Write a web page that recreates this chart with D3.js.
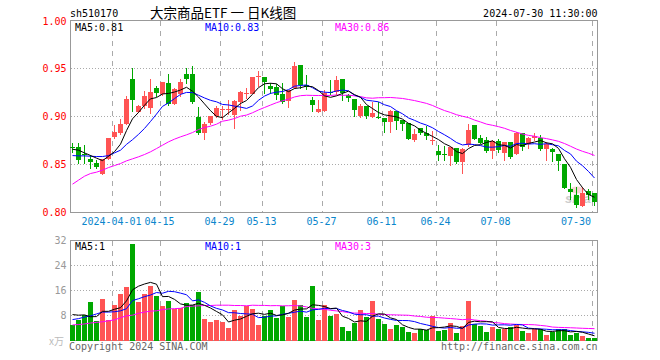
<!DOCTYPE html>
<html><head><meta charset="utf-8">
<script src="https://cdn.jsdelivr.net/npm/d3@7"></script>
<style>
body{margin:0;background:#fff;}
svg{display:block;}
text{font-family:"DejaVu Sans Mono",monospace;font-size:10px;}
</style>
</head><body>
<svg id="c" width="660" height="360"></svg>
<script>
const dates = ["2024-03-21","2024-03-22","2024-03-25","2024-03-26","2024-03-27","2024-03-28","2024-03-29",
"2024-04-01","2024-04-02","2024-04-03","2024-04-08","2024-04-09","2024-04-10","2024-04-11","2024-04-12","2024-04-15","2024-04-16","2024-04-17","2024-04-18","2024-04-19","2024-04-22","2024-04-23","2024-04-24","2024-04-25","2024-04-26","2024-04-29","2024-04-30",
"2024-05-06","2024-05-07","2024-05-08","2024-05-09","2024-05-10","2024-05-13","2024-05-14","2024-05-15","2024-05-16","2024-05-17","2024-05-20","2024-05-21","2024-05-22","2024-05-23","2024-05-24","2024-05-27","2024-05-28","2024-05-29","2024-05-30","2024-05-31",
"2024-06-03","2024-06-04","2024-06-05","2024-06-06","2024-06-07","2024-06-11","2024-06-12","2024-06-13","2024-06-14","2024-06-17","2024-06-18","2024-06-19","2024-06-20","2024-06-21","2024-06-24","2024-06-25","2024-06-26","2024-06-27","2024-06-28",
"2024-07-01","2024-07-02","2024-07-03","2024-07-04","2024-07-05","2024-07-08","2024-07-09","2024-07-10","2024-07-11","2024-07-12","2024-07-15","2024-07-16","2024-07-17","2024-07-18","2024-07-19","2024-07-22","2024-07-23","2024-07-24","2024-07-25","2024-07-26","2024-07-29","2024-07-30"];

const open = [0.8686,0.8680,0.8614,0.8559,0.8514,0.8399,0.8562,0.8785,0.8826,0.8920,0.9389,0.9048,0.9111,0.9090,0.9295,0.9239,0.9347,0.9135,0.9239,0.9441,0.9441,0.9000,0.8823,0.8934,0.9003,0.9066,0.9066,0.9014,0.9152,0.9239,0.9239,0.9416,0.9409,0.9316,0.9309,0.9239,0.9159,0.9298,0.9534,0.9326,0.9170,0.9048,0.9055,0.9260,0.9257,0.9388,0.9222,0.9180,0.9003,0.9107,0.8996,0.8996,0.8986,0.8944,0.9055,0.8962,0.8930,0.8753,0.8882,0.8829,0.8743,0.8638,0.8607,0.8590,0.8677,0.8527,0.8708,0.8909,0.8777,0.8753,0.8642,0.8746,0.8621,0.8732,0.8607,0.8823,0.8718,0.8781,0.8781,0.8660,0.8660,0.8614,0.8503,0.8243,0.8180,0.8069,0.8222,0.8198];
const high = [0.8729,0.8729,0.8708,0.8597,0.8545,0.8562,0.8774,0.8909,0.8972,0.9211,0.9503,0.9118,0.9267,0.9395,0.9316,0.9364,0.9441,0.9295,0.9389,0.9503,0.9524,0.9104,0.8944,0.9010,0.9114,0.9107,0.9170,0.9170,0.9267,0.9302,0.9409,0.9472,0.9409,0.9350,0.9343,0.9350,0.9281,0.9566,0.9534,0.9430,0.9205,0.9170,0.9281,0.9385,0.9420,0.9388,0.9239,0.9180,0.9128,0.9107,0.9152,0.9152,0.8986,0.9066,0.9055,0.8962,0.8930,0.8868,0.8885,0.8899,0.8850,0.8701,0.8691,0.8684,0.8677,0.8677,0.8927,0.8909,0.8805,0.8788,0.8760,0.8764,0.8732,0.8732,0.8840,0.8823,0.8788,0.8823,0.8805,0.8736,0.8677,0.8614,0.8503,0.8309,0.8267,0.8267,0.8243,0.8198];
const low = [0.8625,0.8503,0.8510,0.8455,0.8455,0.8392,0.8545,0.8764,0.8809,0.8909,0.9048,0.9038,0.9083,0.9024,0.9198,0.9218,0.9111,0.9121,0.9205,0.9340,0.9135,0.8809,0.8760,0.8909,0.8989,0.8962,0.9014,0.8868,0.9059,0.9187,0.9232,0.9309,0.9239,0.9232,0.9177,0.9135,0.9090,0.9291,0.9291,0.9274,0.9048,0.9038,0.9048,0.9222,0.9229,0.9159,0.9152,0.8996,0.8986,0.8975,0.8989,0.8979,0.8829,0.8829,0.8857,0.8854,0.8753,0.8736,0.8805,0.8753,0.8701,0.8538,0.8538,0.8482,0.8503,0.8399,0.8684,0.8753,0.8711,0.8621,0.8555,0.8621,0.8538,0.8562,0.8597,0.8642,0.8660,0.8746,0.8642,0.8538,0.8527,0.8434,0.8246,0.8135,0.8052,0.8059,0.8128,0.8069];
const close = [0.8682,0.8552,0.8594,0.8528,0.8475,0.8555,0.8774,0.8836,0.8920,0.9180,0.9170,0.9107,0.9211,0.9253,0.9246,0.9357,0.9135,0.9284,0.9357,0.9389,0.9152,0.8833,0.8927,0.9003,0.9093,0.9083,0.9083,0.9159,0.9257,0.9250,0.9409,0.9427,0.9361,0.9284,0.9222,0.9152,0.9274,0.9524,0.9326,0.9309,0.9118,0.9076,0.9246,0.9250,0.9385,0.9246,0.9194,0.9066,0.9111,0.9007,0.9038,0.8986,0.8944,0.9059,0.8955,0.8920,0.8764,0.8816,0.8829,0.8795,0.8760,0.8597,0.8602,0.8684,0.8527,0.8660,0.8857,0.8764,0.8725,0.8642,0.8743,0.8656,0.8732,0.8580,0.8829,0.8684,0.8777,0.8798,0.8660,0.8711,0.8632,0.8538,0.8257,0.8215,0.8076,0.8208,0.8180,0.8114];
const volume = [4.9,6.6,8.1,12.4,6.3,13.3,6.6,11.4,14.9,17.2,31.0,12.4,14.9,17.5,14.3,11.1,12.7,10.2,10.3,12.1,11.4,15.6,6.9,6.0,6.6,6.0,4.1,9.8,7.9,10.9,10.1,5.0,7.9,9.8,7.3,10.9,7.6,13.1,11.4,7.6,17.5,6.6,11.3,8.0,8.5,4.4,3.1,5.7,9.8,7.6,12.7,6.9,5.3,3.7,5.0,4.2,2.8,2.5,3.7,3.4,7.9,3.1,3.4,5.7,2.5,4.7,12.7,5.3,4.7,2.8,4.4,3.7,3.7,4.4,5.0,3.1,2.5,3.7,3.7,1.8,2.8,3.7,3.7,1.8,2.5,1.5,0.85,0.85];

// moving-average values before enough visible history exists
const ma5Lead = [0.8659,0.8649,0.8621,0.8594];
const ma10Lead = [0.8593,0.8590,0.8590,0.8586,0.8583,0.8583,0.8593,0.8621,0.8649];
const ma30Lead = [0.8295,0.8337,0.8378,0.8406,0.8420,0.8441,0.8468,0.8489,0.8510,0.8538,0.8559,0.8580,0.8604,0.8632,0.8666,0.8701,0.8736,0.8764,0.8788,0.8809,0.8833,0.8864,0.8885,0.8899,0.8920,0.8951,0.8962,0.8979,0.9003];
const volMa5Lead = [8.3,8.1,8.2,7.6];
const volMa10Lead = [6.7,7.0,7.5,7.9,8.5,9.1,9.1,9.2,9.5];
const volMa30Lead = [5.0,5.1,5.3,5.6,5.8,6.0,6.3,6.6,7.3,7.9,8.1,8.7,9.1,9.4,9.5,9.9,10.1,10.2,10.3,10.9,11.0,11.1,11.2,11.2,11.3,11.3,11.3,11.2,11.2];

const tickDates = ["2024-04-01","2024-04-15","2024-04-29","2024-05-13","2024-05-27","2024-06-11","2024-06-24","2024-07-08","2024-07-30"];
const tickLabels = ["2024-04-01","04-15","04-29","05-13","05-27","06-11","06-24","07-08","07-30"];
const priceTicks = [0.80,0.85,0.90,0.95,1.00];
const priceGrid = [0.85,0.90,0.95];
const volTicks = [8,16,24,32];
const volGrid = [8,16,24];

const code = "sh510170";
const title = "大宗商品ETF 一 日K线图";
const stamp = "2024-07-30 11:30:00";
const priceMaLabels = ["MA5:0.81","MA10:0.83","MA30:0.86"];
const volMaLabels = ["MA5:1","MA10:1","MA30:3"];

const UP = "#ff5454", DOWN = "#00a800";
const MA_COLORS = ["#000000","#0000ff","#ff00ff"];
const GRID = "#aaaaaa", FRAME = "#999999";

const svg = d3.select("#c");
const L = 70.5, R = 597.5;
const x = d3.scalePoint().domain(dates).range([72.5, 594.5]);
const y = d3.scaleLinear().domain([0.8, 1.0]).range([212.5, 20.5]);
const yv = d3.scaleLinear().domain([0, 32]).range([340.5, 240.5]);

function movingAvg(arr, n, lead) {
  return arr.map((_, i) => i >= n - 1 ? d3.mean(arr.slice(i - n + 1, i + 1)) : lead[i]);
}

// header
svg.append("text").attr("x", 70).attr("y", 17).attr("fill", "#000").text(code);
svg.append("text").attr("x", 150).attr("y", 17.7)
  .style("font-family", "'Noto Sans CJK SC', sans-serif").style("font-size", "13.5px")
  .style("white-space", "pre").attr("fill", "#000").text(title);
svg.append("text").attr("x", 597.5).attr("y", 17).attr("text-anchor", "end").attr("fill", "#000").text(stamp);

// watermark
const wm = svg.append("g");
wm.append("ellipse").attr("cx", 577).attr("cy", 190).attr("rx", 7).attr("ry", 3.5).attr("fill", "#f6caca").attr("opacity", 0.8);
wm.append("text").attr("x", 565).attr("y", 203)
  .style("font-family", "'Liberation Sans', sans-serif").style("font-size", "13px")
  .style("font-style", "italic").style("font-weight", "bold").attr("fill", "#cccccc").text("sina");

function panelGrid(top, bottom, hVals, yScale) {
  const g = svg.append("g").attr("shape-rendering", "crispEdges");
  g.selectAll(".h").data(hVals).join("line")
    .attr("x1", L).attr("x2", R).attr("y1", d => yScale(d)).attr("y2", d => yScale(d))
    .attr("stroke", GRID).attr("stroke-dasharray", "1,2");
  g.selectAll(".v").data(tickDates).join("line")
    .attr("x1", d => x(d) - 2).attr("x2", d => x(d) - 2).attr("y1", top).attr("y2", bottom)
    .attr("stroke", GRID).attr("stroke-dasharray", "5,5");
  g.append("rect").attr("x", L).attr("y", top).attr("width", R - L).attr("height", bottom - top)
    .attr("fill", "none").attr("stroke", FRAME);
}
panelGrid(20.5, 212.5, priceGrid, y);
panelGrid(240.5, 340.5, volGrid, yv);

// price axis labels
svg.selectAll(".pl").data(priceTicks).join("text")
  .attr("x", 66.5).attr("y", d => Math.max(y(d), 21.7)).attr("dy", "0.35em")
  .attr("text-anchor", "end").attr("fill", "#ff0000").text(d => d.toFixed(2));
// volume axis labels
svg.selectAll(".vl").data(volTicks).join("text")
  .attr("x", 66.5).attr("y", d => yv(d)).attr("dy", "0.35em")
  .attr("text-anchor", "end").attr("fill", "#999999").text(d => d);
svg.append("text").attr("x", 64).attr("y", 341).attr("dy", "0.35em").attr("text-anchor", "end")
  .style("font-family", "'Noto Sans CJK SC', sans-serif").style("font-size", "10px")
  .attr("fill", "#bbbbbb").text("x万");

// date labels
svg.selectAll(".dl").data(tickDates).join("text")
  .attr("x", (d, i) => i === tickDates.length - 1 ? x(d) - 3.5 : x(d) - 3)
  .attr("y", 225).attr("text-anchor", (d, i) => i === tickDates.length - 1 ? "end" : "middle")
  .attr("fill", "#0a86cc").text((d, i) => tickLabels[i]);

// candles
const idx = d3.range(dates.length);
const cg = svg.append("g").attr("shape-rendering", "crispEdges");
cg.selectAll(".w").data(idx).join("line")
  .attr("x1", i => x(dates[i])).attr("x2", i => x(dates[i]))
  .attr("y1", i => y(high[i])).attr("y2", i => y(low[i]))
  .attr("stroke", i => close[i] >= open[i] ? UP : DOWN);
cg.selectAll(".b").data(idx).join("rect")
  .attr("x", i => x(dates[i]) - 2.5).attr("width", 5)
  .attr("y", i => y(Math.max(open[i], close[i])))
  .attr("height", i => Math.max(1, Math.abs(y(open[i]) - y(close[i]))))
  .attr("fill", i => close[i] >= open[i] ? UP : DOWN);

// volume bars
cg.selectAll(".vb").data(idx).join("rect")
  .attr("x", i => x(dates[i]) - 2.5).attr("width", 5)
  .attr("y", i => yv(volume[i])).attr("height", i => yv(0) - yv(volume[i]))
  .attr("fill", i => close[i] >= open[i] ? UP : DOWN);

// MA lines
const priceMas = [movingAvg(close, 5, ma5Lead), movingAvg(close, 10, ma10Lead), movingAvg(close, 30, ma30Lead)];
const volMas = [movingAvg(volume, 5, volMa5Lead), movingAvg(volume, 10, volMa10Lead), movingAvg(volume, 30, volMa30Lead)];
const pLine = d3.line().x((d, i) => x(dates[i])).y(d => y(d));
const vLine = d3.line().x((d, i) => x(dates[i])).y(d => yv(d));
[2, 1, 0].forEach(j => {
  svg.append("path").attr("d", pLine(priceMas[j])).attr("fill", "none").attr("stroke", MA_COLORS[j]).attr("stroke-width", 1);
  svg.append("path").attr("d", vLine(volMas[j])).attr("fill", "none").attr("stroke", MA_COLORS[j]).attr("stroke-width", 1);
});

// MA legends
const legX = [75, 205, 335];
priceMaLabels.forEach((t, j) => svg.append("text").attr("x", legX[j]).attr("y", 31).attr("fill", MA_COLORS[j]).text(t));
volMaLabels.forEach((t, j) => svg.append("text").attr("x", legX[j]).attr("y", 250).attr("fill", MA_COLORS[j]).text(t));

// footer
svg.append("text").attr("x", 69).attr("y", 349.5).attr("fill", "#666666").text("Copyright 2024 SINA.COM");
svg.append("text").attr("x", 597.5).attr("y", 349.5).attr("text-anchor", "end").attr("fill", "#666666").text("http://finance.sina.com.cn");
</script>
</body></html>
